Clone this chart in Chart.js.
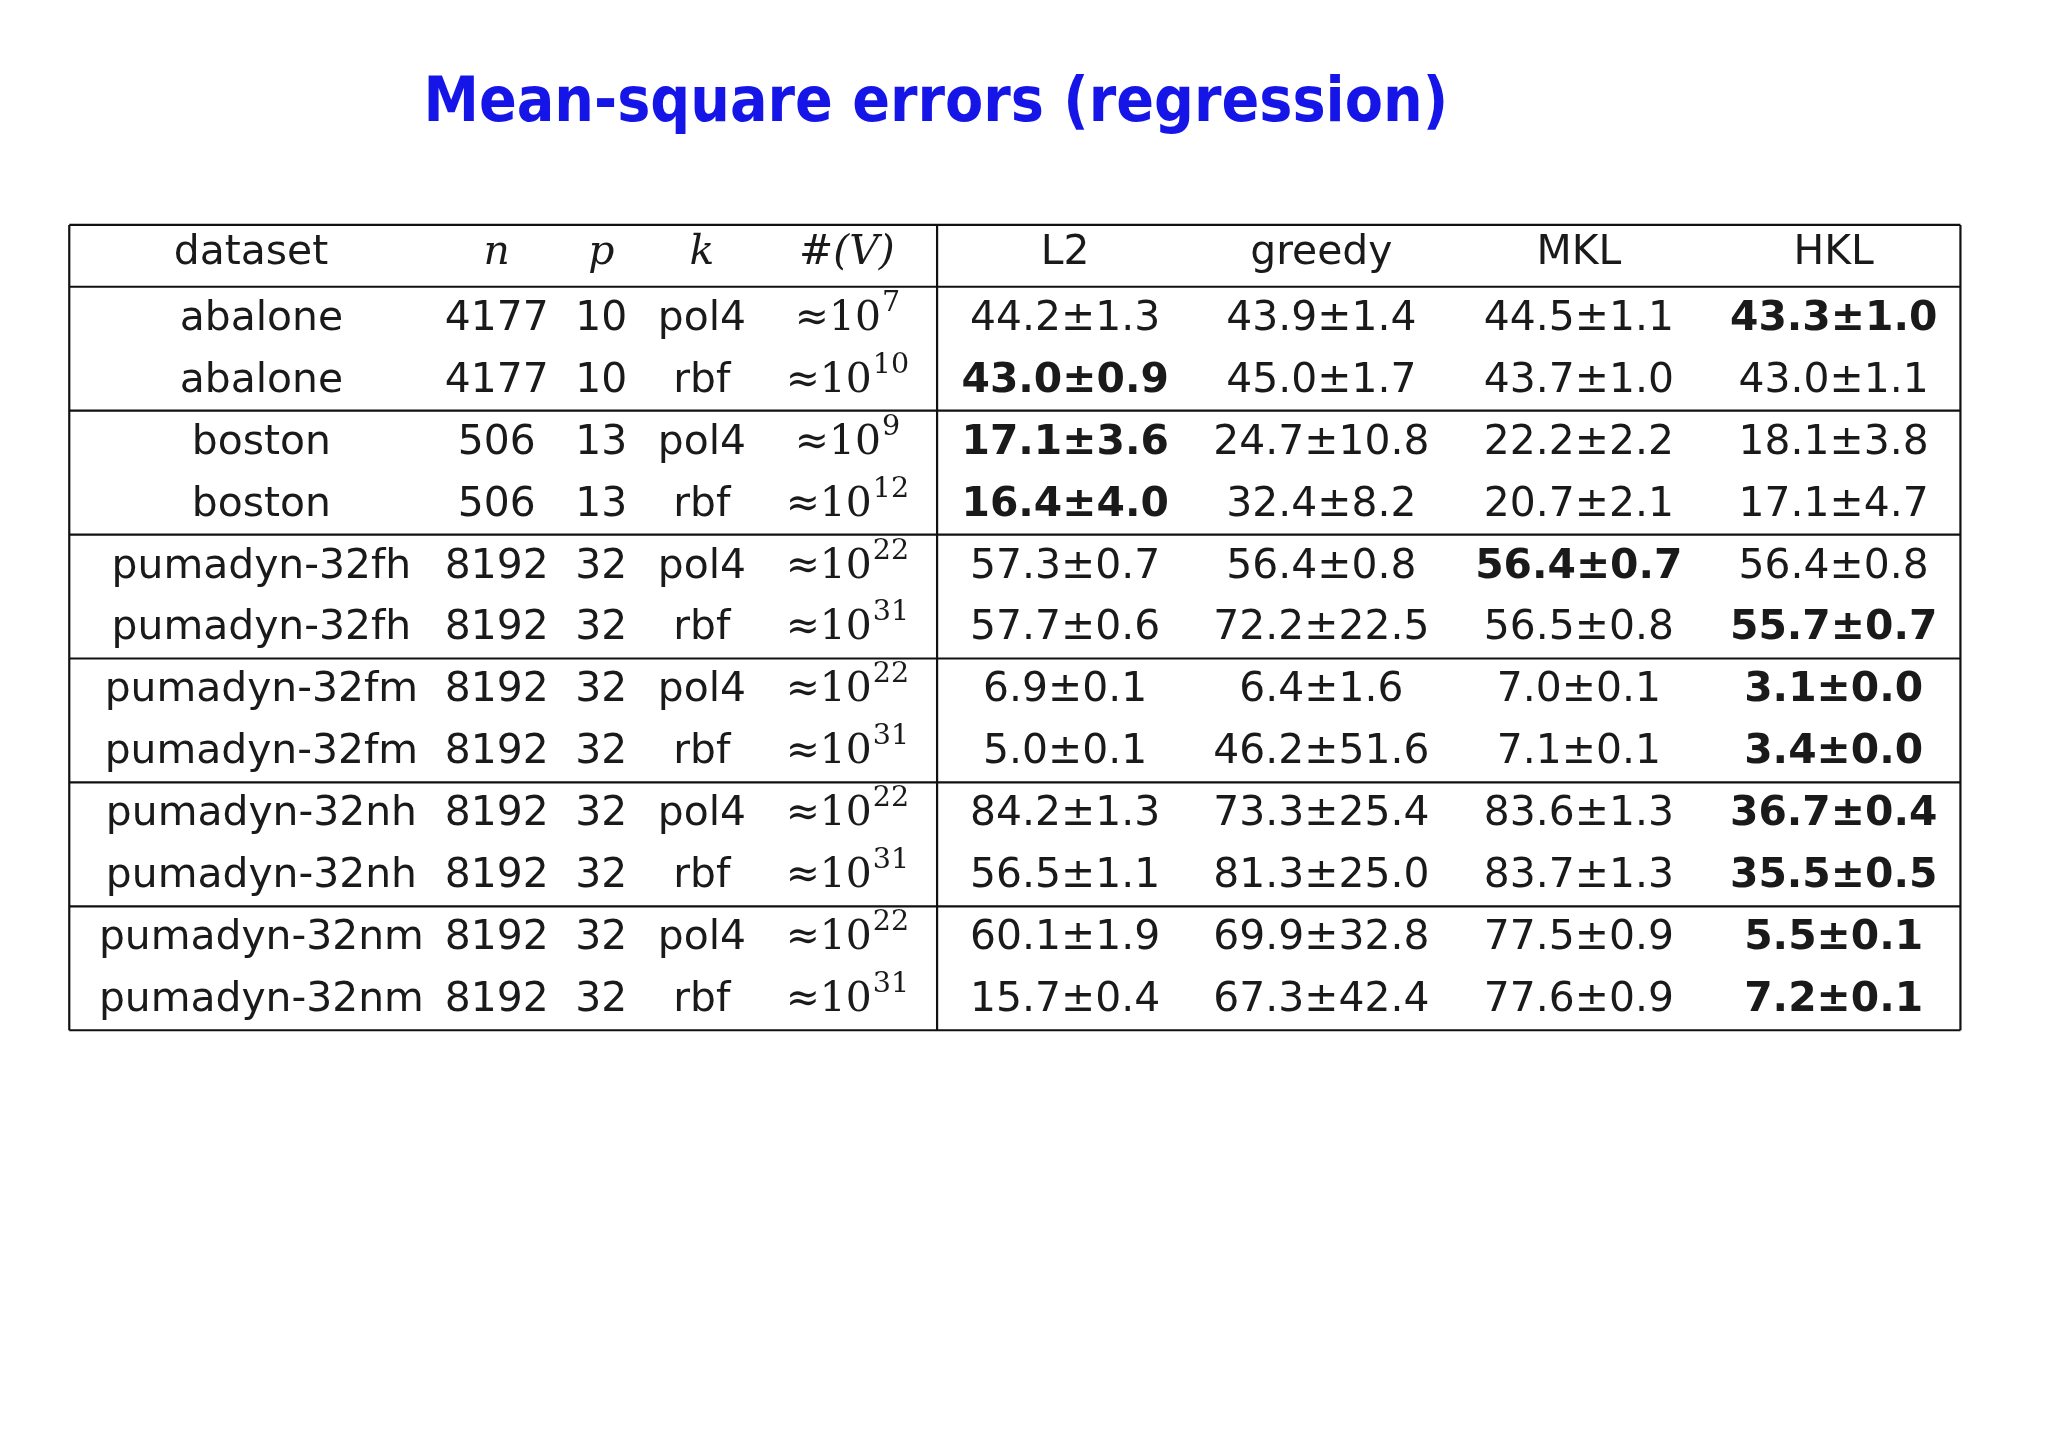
<!DOCTYPE html>
<html><head><meta charset="utf-8">
<script src="https://cdn.jsdelivr.net/npm/chart.js@4/dist/chart.umd.min.js"></script>
<style>html,body{margin:0;background:#fff}#w{width:2048px;height:1447px}</style>
</head><body><div id="w"><canvas id="c"></canvas></div>
<script>
const datasetNames=["abalone","abalone","boston","boston","pumadyn-32fh","pumadyn-32fh","pumadyn-32fm","pumadyn-32fm","pumadyn-32nh","pumadyn-32nh","pumadyn-32nm","pumadyn-32nm"];
const nVals=[4177,4177,506,506,8192,8192,8192,8192,8192,8192,8192,8192];
const pVals=[10,10,13,13,32,32,32,32,32,32,32,32];
const kernels=["pol4","rbf","pol4","rbf","pol4","rbf","pol4","rbf","pol4","rbf","pol4","rbf"];
const vExp=[7,10,9,12,22,31,22,31,22,31,22,31];
const methods=["L2","greedy","MKL","HKL"];
const L2=[[44.2,1.3],[43.0,0.9],[17.1,3.6],[16.4,4.0],[57.3,0.7],[57.7,0.6],[6.9,0.1],[5.0,0.1],[84.2,1.3],[56.5,1.1],[60.1,1.9],[15.7,0.4]];
const greedy=[[43.9,1.4],[45.0,1.7],[24.7,10.8],[32.4,8.2],[56.4,0.8],[72.2,22.5],[6.4,1.6],[46.2,51.6],[73.3,25.4],[81.3,25.0],[69.9,32.8],[67.3,42.4]];
const MKL=[[44.5,1.1],[43.7,1.0],[22.2,2.2],[20.7,2.1],[56.4,0.7],[56.5,0.8],[7.0,0.1],[7.1,0.1],[83.6,1.3],[83.7,1.3],[77.5,0.9],[77.6,0.9]];
const HKL=[[43.3,1.0],[43.0,1.1],[18.1,3.8],[17.1,4.7],[56.4,0.8],[55.7,0.7],[3.1,0.0],[3.4,0.0],[36.7,0.4],[35.5,0.5],[5.5,0.1],[7.2,0.1]];
const bestMethod=[3,0,0,0,2,3,3,3,3,3,3,3];
const title="Mean-square errors (regression)";

// layout (reference frame units)
const colX={ds:200,n:380,p:460,k:537,v:648,m:[815,1011,1208,1403]};
const tableL=53,tableR=1500,vLine=717,hTop=171,hHead=218,rowH=47.1,headY=193;
const FONT='"DejaVu Sans", sans-serif';
const SERIF='"DejaVu Serif", serif';

const tablePlugin={id:'tbl',afterDraw(ch){
  const x=ch.scales.x,y=ch.scales.y,ctx=ch.ctx,s=ch.width/1554;
  const X=v=>x.getPixelForValue(v),Y=v=>y.getPixelForValue(v);
  ctx.save();
  ctx.strokeStyle='#111';ctx.lineWidth=2.2;
  ctx.textBaseline='middle';ctx.textAlign='center';
  ctx.fillStyle='#1515e8';ctx.font=`bold ${47*s}px "DejaVu Sans Condensed", "DejaVu Sans", sans-serif`;
  ctx.fillText(title,X(716),Y(80));
  ctx.fillStyle='#1a1a1a';
  const rowsY=[hTop,hHead];for(let g=1;g<=6;g++)rowsY.push(hHead+g*2*rowH);
  ctx.beginPath();
  rowsY.forEach(r=>{ctx.moveTo(X(tableL),Y(r));ctx.lineTo(X(tableR),Y(r));});
  [tableL,vLine,tableR].forEach(c=>{ctx.moveTo(X(c),Y(hTop));ctx.lineTo(X(c),Y(rowsY[7]));});
  ctx.stroke();
  const fs=31*s;
  ctx.font=`${fs}px ${FONT}`;
  ctx.fillText("dataset",X(192),Y(headY));
  methods.forEach((m,i)=>ctx.fillText(m,X(colX.m[i]),Y(headY)));
  ctx.font=`italic ${fs}px ${SERIF}`;
  ctx.fillText("n",X(colX.n),Y(headY));ctx.fillText("p",X(colX.p),Y(headY));ctx.fillText("k",X(colX.k),Y(headY));
  ctx.fillText("#(V)",X(colX.v),Y(headY));
  const all=[L2,greedy,MKL,HKL];
  datasetNames.forEach((d,i)=>{
    const yy=Y(hHead+rowH*(i+0.5)+1);
    ctx.font=`${fs}px ${FONT}`;
    ctx.fillText(d,X(colX.ds),yy);
    ctx.fillText(String(nVals[i]),X(colX.n),yy);
    ctx.fillText(String(pVals[i]),X(colX.p),yy);
    ctx.fillText(kernels[i],X(colX.k),yy);
    const base="≈10",sup=String(vExp[i]);
    ctx.font=`${fs}px ${SERIF}`;const bw=ctx.measureText(base).width;
    ctx.font=`${fs*0.7}px ${SERIF}`;const sw=ctx.measureText(sup).width;
    let sx=X(colX.v)-(bw+sw)/2;
    ctx.textAlign='left';
    ctx.font=`${fs}px ${SERIF}`;ctx.fillText(base,sx,yy);
    ctx.font=`${fs*0.7}px ${SERIF}`;ctx.fillText(sup,sx+bw+1,yy-12*s);
    ctx.textAlign='center';
    all.forEach((arr,j)=>{
      const b=bestMethod[i]===j;
      ctx.font=`${b?'bold ':''}${fs}px ${FONT}`;
      ctx.fillText(arr[i][0].toFixed(1)+"±"+arr[i][1].toFixed(1),X(colX.m[j]),yy);
    });
  });
  ctx.restore();
}};

new Chart(document.getElementById('c'),{
  type:'scatter',
  data:{datasets:[{data:datasetNames.map((d,i)=>({x:colX.ds,y:hHead+rowH*(i+0.5)})),pointRadius:0}]},
  options:{responsive:true,maintainAspectRatio:false,animation:false,
    layout:{padding:0},
    plugins:{legend:{display:false},tooltip:{enabled:false},title:{display:false}},
    scales:{x:{type:'linear',min:0,max:1567,display:false},y:{type:'linear',min:0,max:1100,reverse:true,display:false}}},
  plugins:[tablePlugin]
});
</script></body></html>
